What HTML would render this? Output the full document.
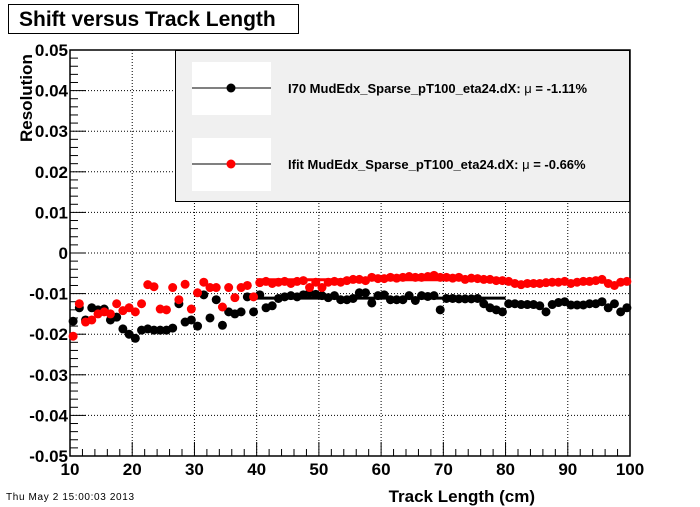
<!DOCTYPE html>
<html><head><meta charset="utf-8"><style>
body{margin:0;background:#fff;}
svg{display:block;font-family:"Liberation Sans",Arial,sans-serif;}
</style></head><body>
<svg id="chart" width="700" height="507" viewBox="0 0 700 507" xmlns="http://www.w3.org/2000/svg">
<rect x="0" y="0" width="700" height="507" fill="#fff"/>
<g>
<rect x="8.5" y="4.5" width="290" height="29" fill="#fff" stroke="#000"/>
<text x="19" y="26" font-size="21" font-weight="bold">Shift versus Track Length</text>
</g>
<g id="grid"></g>
<g id="axes"></g>
<g id="series"></g>
<g>
<rect x="175.5" y="50.5" width="454" height="151" fill="#f0f0f0" stroke="#000"/>
<rect x="192" y="62" width="79" height="53" fill="#fff"/>
<rect x="192" y="138" width="79" height="53" fill="#fff"/>
<line x1="192" y1="88" x2="271" y2="88" stroke="#000"/>
<circle cx="231" cy="88" r="4.5" fill="#000"/>
<line x1="192" y1="164" x2="271" y2="164" stroke="#000"/>
<circle cx="231" cy="164" r="4.5" fill="#f00"/>
<text x="288" y="93" font-size="13" font-weight="bold">I70   MudEdx_Sparse_pT100_eta24.dX: <tspan font-weight="normal">μ</tspan> = -1.11%</text>
<text x="288" y="169" font-size="13" font-weight="bold">Ifit  MudEdx_Sparse_pT100_eta24.dX: <tspan font-weight="normal">μ</tspan> = -0.66%</text>
</g>
<text transform="translate(32,142) rotate(-90)" font-size="17" font-weight="bold">Resolution</text>
<text x="535" y="502" text-anchor="end" font-size="17" font-weight="bold">Track Length (cm)</text>
<text x="6" y="500" font-size="10" textLength="128">Thu May  2 15:00:03 2013</text>
</svg>
<script>
const xTicks=[10,20,30,40,50,60,70,80,90,100];
const yTicks=[0.05,0.04,0.03,0.02,0.01,0,-0.01,-0.02,-0.03,-0.04,-0.05];
const yTickLabels=["0.05","0.04","0.03","0.02","0.01","0","-0.01","-0.02","-0.03","-0.04","-0.05"];
const binStart=10.5;
const i70Values=[-0.0168,-0.0135,-0.0165,-0.0135,-0.014,-0.0138,-0.0165,-0.0158,-0.0187,-0.020,-0.021,-0.019,-0.0187,-0.019,-0.019,-0.019,-0.0185,-0.0125,-0.017,-0.0165,-0.018,-0.0103,-0.016,-0.0115,-0.0178,-0.0145,-0.015,-0.0145,-0.0108,-0.0145,-0.0103,-0.0135,-0.013,-0.0112,-0.0108,-0.0105,-0.0108,-0.0103,-0.0098,-0.0102,-0.0105,-0.011,-0.0105,-0.0115,-0.0115,-0.0112,-0.0098,-0.0098,-0.0123,-0.0105,-0.0103,-0.0115,-0.0115,-0.0115,-0.0105,-0.0117,-0.0105,-0.0107,-0.0105,-0.014,-0.0112,-0.0112,-0.0113,-0.0113,-0.0113,-0.0112,-0.0125,-0.0135,-0.014,-0.0145,-0.0125,-0.0125,-0.0127,-0.0127,-0.0127,-0.013,-0.0145,-0.0127,-0.0122,-0.012,-0.0128,-0.0128,-0.0128,-0.0125,-0.0125,-0.012,-0.0135,-0.0125,-0.0145,-0.0135];
const ifitValues=[-0.0205,-0.0125,-0.017,-0.0165,-0.015,-0.0145,-0.015,-0.0125,-0.0142,-0.0135,-0.0145,-0.0125,-0.0078,-0.0083,-0.0138,-0.014,-0.0085,-0.0115,-0.0077,-0.0138,-0.0098,-0.0072,-0.0085,-0.0085,-0.0133,-0.0085,-0.011,-0.0085,-0.008,-0.0108,-0.0073,-0.007,-0.0075,-0.0072,-0.007,-0.0075,-0.007,-0.0068,-0.0085,-0.0072,-0.0085,-0.0072,-0.007,-0.0072,-0.0068,-0.0065,-0.0065,-0.0068,-0.006,-0.0063,-0.0063,-0.006,-0.0062,-0.006,-0.0058,-0.006,-0.006,-0.0058,-0.0055,-0.006,-0.006,-0.0062,-0.006,-0.0065,-0.0062,-0.0063,-0.0065,-0.0065,-0.0068,-0.0068,-0.007,-0.0075,-0.0078,-0.0075,-0.0075,-0.0075,-0.0073,-0.0072,-0.0072,-0.007,-0.0075,-0.0072,-0.007,-0.007,-0.0068,-0.0065,-0.0075,-0.008,-0.0072,-0.007];
const meanRange=[40,80];
const i70Mean=-0.0111;
const ifitMean=-0.0066;

const NS="http://www.w3.org/2000/svg";
const X0=70,X1=630,Y0=456,Y1=50;
const xMin=10,xMax=100,yMin=-0.05,yMax=0.05;
function sx(v){return X0+(v-xMin)/(xMax-xMin)*(X1-X0);}
function sy(v){return Y0-(v-yMin)/(yMax-yMin)*(Y0-Y1);}
function mk(tag,attrs,parent){const e=document.createElementNS(NS,tag);for(const k in attrs)e.setAttribute(k,attrs[k]);parent.appendChild(e);return e;}
const grid=document.getElementById('grid'),axes=document.getElementById('axes'),series=document.getElementById('series');
xTicks.forEach(t=>{if(t===xMin||t===xMax)return;
 const l=mk('line',{x1:sx(t),x2:sx(t),y1:Y1,y2:Y0,stroke:'#000','stroke-dasharray':'1,2','stroke-width':1},grid);
 
 });
yTicks.forEach(t=>{if(t===yMin||t===yMax)return;
 const l=mk('line',{x1:X0,x2:X1,y1:sy(t),y2:sy(t),stroke:'#000','stroke-dasharray':'1,2','stroke-width':1},grid);
 
 });
const frame=mk('rect',{x:X0,y:Y1,width:X1-X0,height:Y0-Y1,fill:'none',stroke:'#000','stroke-width':1.5},axes);


for(let v=xMin;v<=xMax+0.001;v+=2){const major=Math.abs(v%10)<0.01;
 mk('line',{x1:sx(v),x2:sx(v),y1:Y0,y2:Y0-(major?14:7),stroke:'#000'},axes);}
for(let i=0;i<=50;i++){const v=yMin+i*0.002;const major=i%5===0;
 mk('line',{x1:X0,x2:X0+(major?16:8),y1:sy(v),y2:sy(v),stroke:'#000'},axes);}
xTicks.forEach(t=>{const tx=mk('text',{x:sx(t),y:Y0+19,'text-anchor':'middle','font-size':17,'font-weight':'bold'},axes);tx.textContent=String(t);
 
 });
yTicks.forEach((t,i)=>{const tx=mk('text',{x:X0-2,y:sy(t)+6,'text-anchor':'end','font-size':17,'font-weight':'bold'},axes);tx.textContent=yTickLabels[i];
 
 });
const m1=mk('line',{x1:sx(meanRange[0]),x2:sx(meanRange[1]),y1:sy(i70Mean),y2:sy(i70Mean),stroke:'#000','stroke-width':3},series);


const m2=mk('line',{x1:sx(meanRange[0]),x2:sx(meanRange[1]),y1:sy(ifitMean),y2:sy(ifitMean),stroke:'#f00','stroke-width':3},series);


i70Values.forEach((v,i)=>{const c=mk('circle',{cx:sx(binStart+i),cy:sy(v),r:4.5,fill:'#000'},series);
 
 });
ifitValues.forEach((v,i)=>{const c=mk('circle',{cx:sx(binStart+i),cy:sy(v),r:4.5,fill:'#f00'},series);
 
 });
</script>
</body></html>
